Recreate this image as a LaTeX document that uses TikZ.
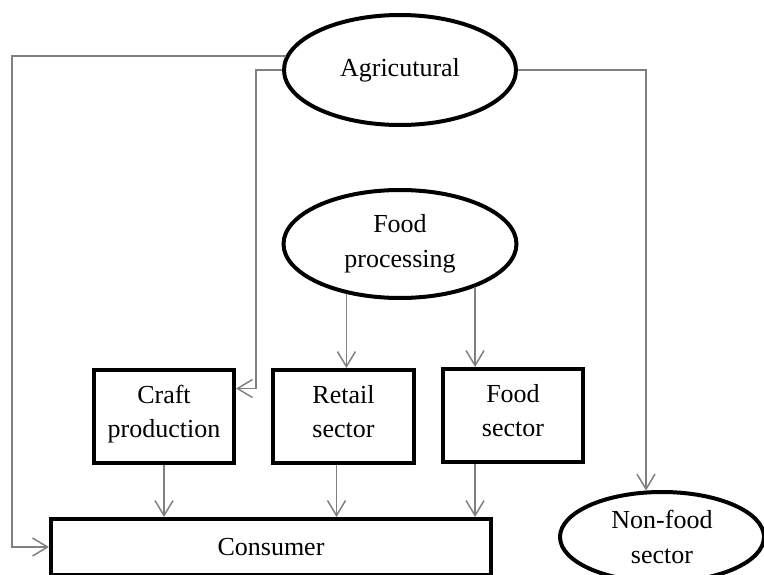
\documentclass[tikz,border=0pt]{standalone}
\usepackage{fontspec}
\setmainfont{Liberation Serif}
\usetikzlibrary{arrows.meta}
\usetikzlibrary{positioning}
\usetikzlibrary{shapes.geometric}

\begin{document}
\begin{tikzpicture}
    [x=1pt, y=-1pt,
     bx/.style={rectangle, draw=black, line width=4pt, minimum width=140pt, minimum height=93pt, align=center},
     ov/.style={ellipse, draw=black, line width=4pt, inner sep=0pt, align=center},
     ar/.style={-{Straight Barb[length=15pt, width=18pt]}, draw=black!50, line width=1.5pt},
     every node/.style={font=\fontsize{26}{34.5}\selectfont}]

    \useasboundingbox (0,0) rectangle (764,575);

    \node [ov, minimum width=232pt, minimum height=110pt] (agri) at (400,70) {Agricutural};
    \node [ov, below=61pt of agri, minimum width=233pt, minimum height=108pt] (fp) {Food\\processing};

    \node [bx, yshift=2pt] (craft) at (164,418.5) {Craft\\production\strut};
    \node [bx, right=35pt of craft, minimum width=141pt] (retail) {Retail\\sector\strut};
    \node [bx, right=25pt of retail, yshift=1pt] (fsec) {Food\\sector\strut};

    \node [rectangle, draw=black, line width=4pt, minimum width=440pt, minimum height=56pt] (cons) at (271,547) {Consumer};
    \node [ov, minimum width=204pt, minimum height=90pt] (nonfood) at (662,537) {Non-food\\sector};

    \draw [ar] (agri.173) -| ([xshift=-37pt] cons.west) -- (cons.west);
    \draw [ar] (agri.west) -- ++(-26,0) |- ([yshift=28pt] craft.east);
    \draw [ar] (agri.east) -| (nonfood.109);

    \draw [ar] (fp.223) -- (fp.223 |- retail.north);
    \draw [ar] (fp.330) -- (fp.330 |- fsec.north);

    \draw [ar] (craft.south) -- (craft.south |- cons.north);
    \draw [ar] ([xshift=-7pt] retail.south) -- ([xshift=-7pt] retail.south |- cons.north);
    \draw [ar] (fp.330 |- fsec.south) -- (fp.330 |- cons.north);
\end{tikzpicture}
\end{document}
